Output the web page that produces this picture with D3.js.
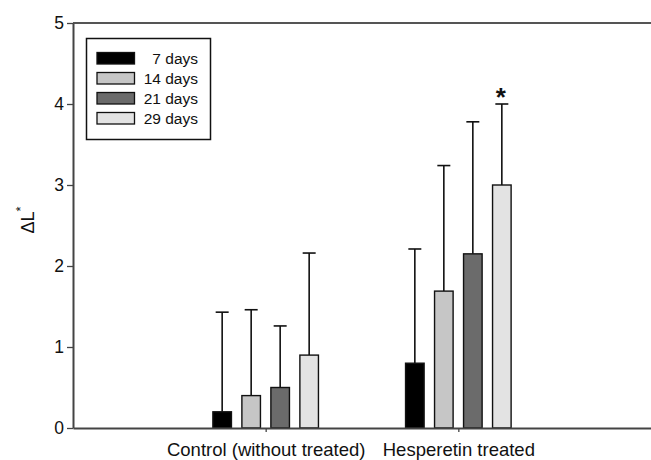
<!DOCTYPE html>
<html>
<head>
<meta charset="utf-8">
<script src="https://cdn.jsdelivr.net/npm/d3@7"></script>
<style>
  body { margin: 0; background: #fff; }
  svg { display: block; font-family: "Liberation Sans", Arial, sans-serif; }
</style>
</head>
<body>
<div id="chart-area"></div>
<script>
// DATA
var groups = ["Control (without treated)", "Hesperetin treated"];
var series = ["7 days", "14 days", "21 days", "29 days"];
var seriesColors = ["#000000", "#c6c6c6", "#6b6b6b", "#e3e3e3"];
var meanControl = [0.2, 0.4, 0.5, 0.9];
var meanHesperetin = [0.8, 1.69, 2.15, 3.0];
var errControl = [1.23, 1.06, 0.76, 1.26];
var errHesperetin = [1.41, 1.55, 1.63, 1.0];
var yTicks = [0, 1, 2, 3, 4, 5];
var significant = [[1, 3]]; // [group index, series index]

//INITIAL SETUP
var W = 651, H = 460;
var margin = { top: 23, right: 0, bottom: 32, left: 73 };
var width = W - margin.left - margin.right;
var height = H - margin.top - margin.bottom;

var svg = d3.select('#chart-area')
  .append('svg')
  .attr('width', W)
  .attr('height', H);

var graph = svg.append('g')
  .attr('transform', 'translate(' + margin.left + ',' + margin.top + ')');

//SCALES
var x = d3.scalePoint()
  .domain(groups)
  .range([0, width])
  .padding(1);

var xInner = d3.scaleBand()
  .domain(series)
  .range([-58, 58])
  .paddingInner(0.36)
  .paddingOuter(0.18);

var y = d3.scaleLinear()
  .domain([0, 5])
  .range([height, 0]);

var color = d3.scaleOrdinal()
  .domain(series)
  .range(seriesColors);

var rows = [];
groups.forEach(function (g, gi) {
  var means = gi === 0 ? meanControl : meanHesperetin;
  var errs = gi === 0 ? errControl : errHesperetin;
  series.forEach(function (s, si) {
    rows.push({ group: g, gi: gi, series: s, si: si, value: means[si], err: errs[si] });
  });
});

//TOP FRAME LINE
graph.append('line')
  .attr('x1', 0).attr('x2', width)
  .attr('y1', 0).attr('y2', 0)
  .attr('stroke', '#555')
  .attr('stroke-width', 2);

//ERROR BARS (drawn before bars so the bar covers the stem)
var err = graph.append('g').attr('class', 'errors')
  .selectAll('g')
  .data(rows)
  .enter()
  .append('g')
  .attr('transform', function (d) {
    return 'translate(' + (x(d.group) + xInner(d.series) + xInner.bandwidth() / 2) + ',0)';
  });

err.append('line')
  .attr('x1', 0).attr('x2', 0)
  .attr('y1', function (d) { return y(d.value); })
  .attr('y2', function (d) { return y(d.value + d.err); })
  .attr('stroke', '#111')
  .attr('stroke-width', 1.6);

err.append('line')
  .attr('x1', -6.5).attr('x2', 6.5)
  .attr('y1', function (d) { return y(d.value + d.err); })
  .attr('y2', function (d) { return y(d.value + d.err); })
  .attr('stroke', '#111')
  .attr('stroke-width', 1.6);

//BARS
graph.append('g').attr('class', 'bars')
  .selectAll('rect')
  .data(rows)
  .enter()
  .append('rect')
  .attr('x', function (d) { return x(d.group) + xInner(d.series); })
  .attr('y', function (d) { return y(d.value); })
  .attr('width', xInner.bandwidth())
  .attr('height', function (d) { return y(0) - y(d.value); })
  .attr('fill', function (d) { return color(d.series); })
  .attr('stroke', '#111')
  .attr('stroke-width', 1.4);

//SIGNIFICANCE MARK
graph.append('g')
  .selectAll('text')
  .data(significant)
  .enter()
  .append('text')
  .attr('x', function (d) { return x(groups[d[0]]) + xInner(series[d[1]]) + xInner.bandwidth() / 2 - 1; })
  .attr('y', function (d) {
    var r = rows.filter(function (r) { return r.gi === d[0] && r.si === d[1]; })[0];
    return y(r.value + r.err) + 2;
  })
  .attr('text-anchor', 'middle')
  .attr('font-size', '26px')
  .attr('font-weight', 'bold')
  .attr('fill', '#111')
  .text('*');

//AXES
var xAxisGroup = graph.append('g')
  .attr('class', 'x-axis')
  .attr('transform', 'translate(0,' + height + ')');

var xAxis = d3.axisBottom(x)
  .tickSize(4)
  .tickPadding(11)
  .tickSizeOuter(0);
xAxisGroup.call(xAxis);

var yAxisGroup = graph.append('g')
  .attr('class', 'y-axis');

var yAxis = d3.axisLeft(y)
  .tickValues(yTicks)
  .tickFormat(d3.format('d'))
  .tickSize(6)
  .tickPadding(3)
  .tickSizeOuter(0);
yAxisGroup.call(yAxis);

xAxisGroup.select('.domain').attr('stroke', '#444').attr('stroke-width', 2);
yAxisGroup.select('.domain').attr('stroke', '#444').attr('stroke-width', 2);
graph.selectAll('.tick line').attr('stroke', '#444').attr('stroke-width', 1.3);
xAxisGroup.selectAll('text')
  .attr('font-size', '18.5px')
  .attr('font-family', '"Liberation Sans", Arial, sans-serif')
  .attr('fill', '#111');
yAxisGroup.selectAll('text')
  .attr('font-size', '17.5px')
  .attr('font-family', '"Liberation Sans", Arial, sans-serif')
  .attr('fill', '#111');

//Y LABEL
var yLabel = svg.append('text')
  .attr('transform', 'translate(34,220) rotate(-90)')
  .attr('text-anchor', 'middle')
  .attr('font-size', '18px')
  .attr('fill', '#111');
yLabel.append('tspan').text('\u0394L');
yLabel.append('tspan')
  .attr('font-size', '13px')
  .attr('dy', '-9')
  .text('*');

//LEGEND
var legend = graph.append('g')
  .attr('transform', 'translate(' + (86.5 - margin.left) + ',' + (38.5 - margin.top) + ')');

legend.append('rect')
  .attr('width', 124)
  .attr('height', 101)
  .attr('fill', '#fff')
  .attr('stroke', '#111')
  .attr('stroke-width', 1.5);

var item = legend.selectAll('g.item')
  .data(series)
  .enter()
  .append('g')
  .attr('class', 'item')
  .attr('transform', function (d, i) { return 'translate(0,' + (14 + i * 20) + ')'; });

item.append('rect')
  .attr('x', 10.5)
  .attr('width', 37.5)
  .attr('height', 11.5)
  .attr('fill', function (d) { return color(d); })
  .attr('stroke', '#111')
  .attr('stroke-width', 1.3);

item.append('text')
  .attr('x', 111.5)
  .attr('y', 11.5)
  .attr('text-anchor', 'end')
  .attr('font-size', '15.5px')
  .attr('fill', '#111')
  .text(function (d) { return d; });
</script>
</body>
</html>
